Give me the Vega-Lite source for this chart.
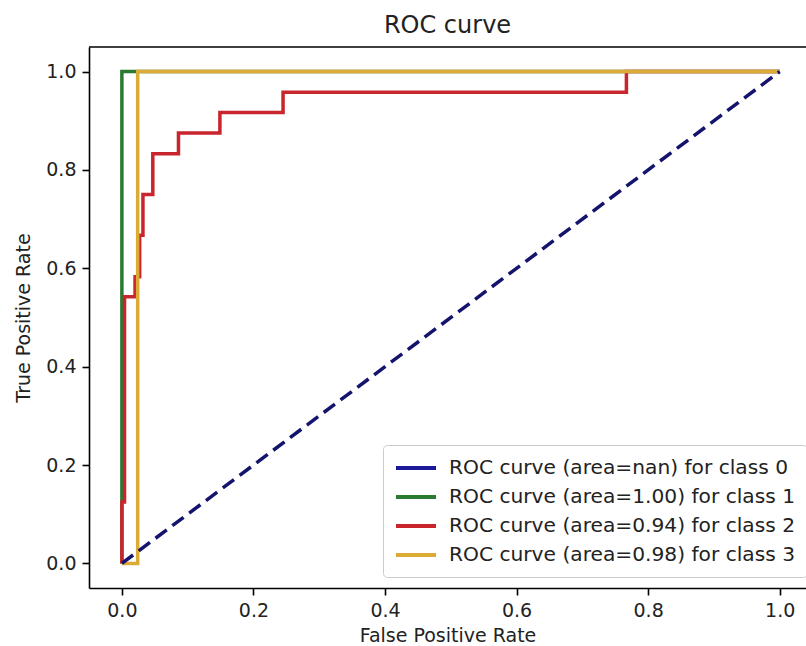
{
  "$schema": "https://vega.github.io/schema/vega-lite/v6.json",
  "width": 717,
  "height": 541,
  "autosize": {"type": "none"},
  "padding": {"left": 89, "top": 47, "right": 0, "bottom": 58},
  "background": "white",
  "config": {
    "view": {"stroke": null},
    "font": "DejaVu Sans",
    "axis": {
      "grid": false,
      "domainColor": "#000000",
      "domainWidth": 1.6,
      "tickColor": "#000000",
      "tickWidth": 1.6,
      "tickSize": 7,
      "labelFont": "DejaVu Sans",
      "labelFontSize": 19,
      "labelColor": "#222222",
      "labelPadding": 6,
      "titleFont": "DejaVu Sans",
      "titleFontSize": 19,
      "titleFontWeight": "normal",
      "titleColor": "#222222"
    }
  },
  "title": {"text": "ROC curve", "fontSize": 24, "fontWeight": "normal", "font": "DejaVu Sans", "color": "#222222", "offset": 8},
  "datasets": {
    "green": [
      {"o": 0, "fpr": 0, "tpr": 0, "series": "ROC curve (area=1.00) for class 1"},
      {"o": 1, "fpr": 0, "tpr": 1, "series": "ROC curve (area=1.00) for class 1"},
      {"o": 2, "fpr": 1, "tpr": 1, "series": "ROC curve (area=1.00) for class 1"}
    ],
    "red": [
      {"o": 0, "fpr": 0, "tpr": 0, "series": "ROC curve (area=0.94) for class 2"},
      {"o": 1, "fpr": 0, "tpr": 0.125, "series": "ROC curve (area=0.94) for class 2"},
      {"o": 2, "fpr": 0.004, "tpr": 0.125, "series": "ROC curve (area=0.94) for class 2"},
      {"o": 3, "fpr": 0.004, "tpr": 0.542, "series": "ROC curve (area=0.94) for class 2"},
      {"o": 4, "fpr": 0.02, "tpr": 0.542, "series": "ROC curve (area=0.94) for class 2"},
      {"o": 5, "fpr": 0.02, "tpr": 0.583, "series": "ROC curve (area=0.94) for class 2"},
      {"o": 6, "fpr": 0.027, "tpr": 0.583, "series": "ROC curve (area=0.94) for class 2"},
      {"o": 7, "fpr": 0.027, "tpr": 0.667, "series": "ROC curve (area=0.94) for class 2"},
      {"o": 8, "fpr": 0.032, "tpr": 0.667, "series": "ROC curve (area=0.94) for class 2"},
      {"o": 9, "fpr": 0.032, "tpr": 0.75, "series": "ROC curve (area=0.94) for class 2"},
      {"o": 10, "fpr": 0.047, "tpr": 0.75, "series": "ROC curve (area=0.94) for class 2"},
      {"o": 11, "fpr": 0.047, "tpr": 0.833, "series": "ROC curve (area=0.94) for class 2"},
      {"o": 12, "fpr": 0.086, "tpr": 0.833, "series": "ROC curve (area=0.94) for class 2"},
      {"o": 13, "fpr": 0.086, "tpr": 0.875, "series": "ROC curve (area=0.94) for class 2"},
      {"o": 14, "fpr": 0.149, "tpr": 0.875, "series": "ROC curve (area=0.94) for class 2"},
      {"o": 15, "fpr": 0.149, "tpr": 0.917, "series": "ROC curve (area=0.94) for class 2"},
      {"o": 16, "fpr": 0.245, "tpr": 0.917, "series": "ROC curve (area=0.94) for class 2"},
      {"o": 17, "fpr": 0.245, "tpr": 0.958, "series": "ROC curve (area=0.94) for class 2"},
      {"o": 18, "fpr": 0.767, "tpr": 0.958, "series": "ROC curve (area=0.94) for class 2"},
      {"o": 19, "fpr": 0.767, "tpr": 1, "series": "ROC curve (area=0.94) for class 2"},
      {"o": 20, "fpr": 1, "tpr": 1, "series": "ROC curve (area=0.94) for class 2"}
    ],
    "yellow": [
      {"o": 0, "fpr": 0, "tpr": 0, "series": "ROC curve (area=0.98) for class 3"},
      {"o": 1, "fpr": 0.024, "tpr": 0, "series": "ROC curve (area=0.98) for class 3"},
      {"o": 2, "fpr": 0.024, "tpr": 1, "series": "ROC curve (area=0.98) for class 3"},
      {"o": 3, "fpr": 1, "tpr": 1, "series": "ROC curve (area=0.98) for class 3"}
    ],
    "diag": [
      {"o": 0, "fpr": 0, "tpr": 0},
      {"o": 1, "fpr": 1, "tpr": 1}
    ]
  },
  "layer": [
    {
      "data": {"name": "green"},
      "mark": {"type": "line", "strokeWidth": 3.5},
      "encoding": {
        "x": {"field": "fpr", "type": "quantitative", "title": "False Positive Rate",
              "scale": {"domain": [-0.05, 1.04], "nice": false, "zero": false},
              "axis": {"values": [0, 0.2, 0.4, 0.6, 0.8, 1.0], "format": ".1f", "titlePadding": 6, "labelFlush": false}},
        "y": {"field": "tpr", "type": "quantitative", "title": "True Positive Rate",
              "scale": {"domain": [-0.05, 1.05], "nice": false, "zero": false},
              "axis": {"values": [0, 0.2, 0.4, 0.6, 0.8, 1.0], "format": ".1f", "titlePadding": 12, "labelFlush": false}},
        "order": {"field": "o", "type": "quantitative"},
        "color": {
          "field": "series", "type": "nominal",
          "scale": {
            "domain": ["ROC curve (area=nan) for class 0", "ROC curve (area=1.00) for class 1", "ROC curve (area=0.94) for class 2", "ROC curve (area=0.98) for class 3"],
            "range": ["#1a1a96", "#2a7a32", "#c8262c", "#dcab35"]
          },
          "legend": {
            "orient": "none", "legendX": 294, "legendY": 398, "title": null,
            "symbolType": "M-1,0H3", "symbolSize": 400, "symbolStrokeWidth": 4,
            "labelFontSize": 20.2, "labelFont": "DejaVu Sans", "labelColor": "#222222",
            "labelOffset": 31, "rowPadding": 6, "padding": 11, "labelLimit": 0,
            "fillColor": "rgba(255,255,255,0.85)", "strokeColor": "#cccccc", "cornerRadius": 4
          }
        }
      }
    },
    {
      "data": {"name": "red"},
      "mark": {"type": "line", "strokeWidth": 3.5},
      "encoding": {
        "x": {"field": "fpr", "type": "quantitative", "title": "False Positive Rate"},
        "y": {"field": "tpr", "type": "quantitative", "title": "True Positive Rate"},
        "order": {"field": "o", "type": "quantitative"},
        "color": {"field": "series", "type": "nominal"}
      }
    },
    {
      "data": {"name": "yellow"},
      "mark": {"type": "line", "strokeWidth": 3.5},
      "encoding": {
        "x": {"field": "fpr", "type": "quantitative", "title": "False Positive Rate"},
        "y": {"field": "tpr", "type": "quantitative", "title": "True Positive Rate"},
        "order": {"field": "o", "type": "quantitative"},
        "color": {"field": "series", "type": "nominal"}
      }
    },
    {
      "data": {"name": "diag"},
      "mark": {"type": "line", "strokeWidth": 3.5, "color": "#14146e", "strokeDash": [14, 7]},
      "encoding": {
        "x": {"field": "fpr", "type": "quantitative", "title": "False Positive Rate"},
        "y": {"field": "tpr", "type": "quantitative", "title": "True Positive Rate"},
        "order": {"field": "o", "type": "quantitative"}
      }
    },
    {
      "data": {"values": [{"top": 1.05}]},
      "mark": {"type": "rule", "color": "#000000", "strokeWidth": 1.6},
      "encoding": {
        "y": {"field": "top", "type": "quantitative", "title": "True Positive Rate"}
      }
    }
  ]
}
